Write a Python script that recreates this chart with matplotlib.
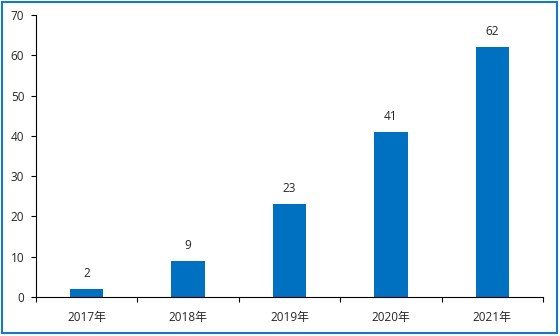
import matplotlib
matplotlib.use("Agg")
import matplotlib.pyplot as plt
from matplotlib.patches import Rectangle

plt.rcParams['font.family'] = ['Open Sans', 'Noto Sans CJK SC', 'DejaVu Sans']

years = ["2017年", "2018年", "2019年", "2020年", "2021年"]
values = [2, 9, 23, 41, 62]

bar_color = "#0070C0"
text_color = "#262626"
fs = 8.5

fig = plt.figure(figsize=(5.6, 3.36), dpi=100)
ax = fig.add_axes([36 / 560, 1 - 297 / 336, (543 - 36) / 560, (297 - 15) / 336])

x = list(range(len(years)))
ax.bar(x, values, width=0.33, color=bar_color, zorder=2)

for xi, v in zip(x, values):
    ax.annotate(str(v), (xi, v), xytext=(0, 6.5), textcoords="offset points",
                ha="center", va="bottom", fontsize=fs, color=text_color)

ax.set_xlim(-0.5, len(years) - 0.5)
ax.set_ylim(0, 70)
ax.set_yticks(range(0, 71, 10))
ax.set_xticks(x)
ax.set_xticklabels(years)
ax.set_xticks([i - 0.5 for i in range(len(years) + 1)], minor=True)
ax.tick_params(axis="x", which="major", length=0, pad=10, labelsize=fs, labelcolor=text_color)
ax.tick_params(axis="x", which="minor", length=3.5, width=0.8, color="#000000", direction="out")
ax.tick_params(axis="y", length=3.5, width=0.8, color="#000000", pad=5, labelsize=fs, labelcolor=text_color)

for side in ("top", "right"):
    ax.spines[side].set_visible(False)
for side in ("left", "bottom"):
    ax.spines[side].set_color("#000000")
    ax.spines[side].set_linewidth(0.8)

fig.patches.append(Rectangle((1.5 / 560, 1 - 333 / 336), 555.5 / 560, 331.5 / 336,
                             transform=fig.transFigure, fill=False,
                             edgecolor="#1479CC", linewidth=1.5))

fig.savefig("out.png", dpi=100)
